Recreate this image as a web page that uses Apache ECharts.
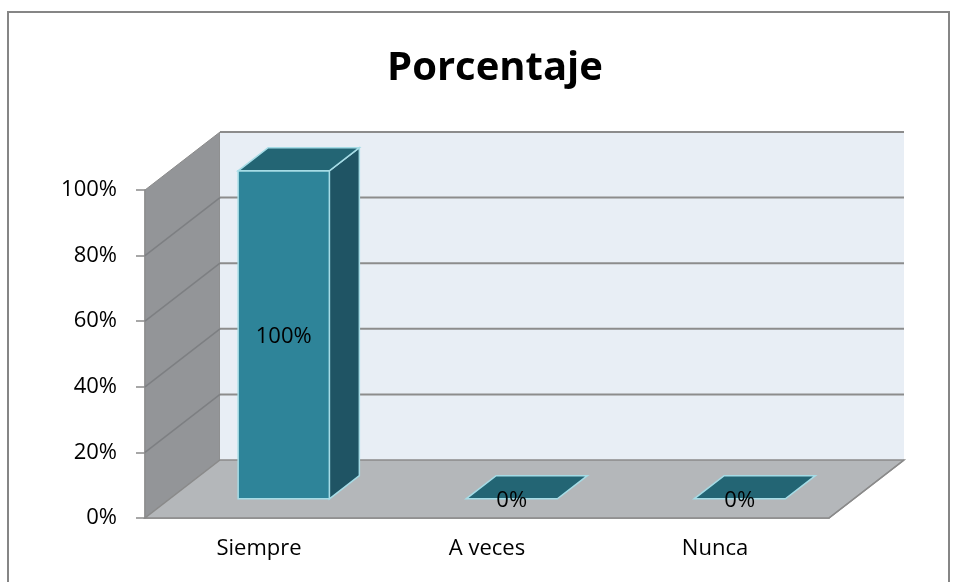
<!DOCTYPE html>
<html>
<head>
<meta charset="utf-8">
<script src="https://cdn.jsdelivr.net/npm/echarts@6/dist/echarts.min.js"></script>
<style>
html, body { margin: 0; padding: 0; background: #fff; }
#chart { width: 954px; height: 582px; }
</style>
</head>
<body>
<div id="chart"></div>
<script>
const categories = ['Siempre', 'A veces', 'Nunca'];
const values = [100, 0, 0];
const valueTicks = [0, 20, 40, 60, 80, 100];

// fake 3D: offset of the back wall from the front plane (px)
const DX = 75, DY = -58;
const BAR_FRONT = 0.33, BAR_BACK = 0.73, BAR_W = 0.4;

const chart = echarts.init(document.getElementById('chart'));

function shift(p, k) {
  return [p[0] + DX * k, p[1] + DY * k];
}

function renderWalls(params, api) {
  const band = api.size([1, 0])[0];
  const x0 = api.coord([0, 0])[0] - band / 2;
  const x1 = api.coord([categories.length - 1, 0])[0] + band / 2;
  const yBot = api.coord([0, 0])[1];
  const yTop = api.coord([0, 100])[1];
  const children = [];
  // side wall
  children.push({
    type: 'polygon',
    shape: { points: [[x0, yBot], [x0, yTop], shift([x0, yTop], 1), shift([x0, yBot], 1)] },
    style: { fill: '#939598', stroke: '#8a8a8a', lineWidth: 1 }
  });
  // back wall
  const bl = shift([x0, yTop], 1), br = shift([x1, yBot], 1);
  children.push({
    type: 'rect',
    shape: { x: bl[0], y: bl[1], width: br[0] - bl[0], height: br[1] - bl[1] },
    style: { fill: '#E8EEF5' }
  });
  // floor
  children.push({
    type: 'polygon',
    shape: { points: [[x0, yBot], [x1, yBot], shift([x1, yBot], 1), shift([x0, yBot], 1)] },
    style: { fill: '#B4B7BA', stroke: '#8a8a8a', lineWidth: 1.5 }
  });
  // gridlines on back wall and side wall
  valueTicks.forEach(function (v) {
    const y = api.coord([0, v])[1];
    if (v > 0) {
      children.push({
        type: 'line',
        shape: { x1: shift([x0, y], 1)[0], y1: shift([x0, y], 1)[1], x2: shift([x1, y], 1)[0], y2: shift([x1, y], 1)[1] },
        style: { stroke: '#8C8C8C', lineWidth: 2 }
      });
    }
    if (v > 0 && v < 100) {
      children.push({
        type: 'line',
        shape: { x1: x0, y1: y, x2: shift([x0, y], 1)[0], y2: shift([x0, y], 1)[1] },
        style: { stroke: '#7d7f82', lineWidth: 1.5 }
      });
    }
  });
  // right edge of floor
  children.push({
    type: 'line',
    shape: { x1: x1, y1: yBot, x2: shift([x1, yBot], 1)[0], y2: shift([x1, yBot], 1)[1] },
    style: { stroke: '#8a8a8a', lineWidth: 1.5 }
  });
  return { type: 'group', children: children };
}

function renderBar(params, api) {
  const i = api.value(0), v = api.value(1);
  const band = api.size([1, 0])[0];
  const w = band * BAR_W;
  const cx = api.coord([i, 0])[0];
  const yb = api.coord([i, 0])[1];
  const yt = api.coord([i, v])[1];
  const FBL = shift([cx - w / 2, yb], BAR_FRONT), FBR = shift([cx + w / 2, yb], BAR_FRONT);
  const FTL = shift([cx - w / 2, yt], BAR_FRONT), FTR = shift([cx + w / 2, yt], BAR_FRONT);
  const BTL = shift([cx - w / 2, yt], BAR_BACK), BTR = shift([cx + w / 2, yt], BAR_BACK);
  const BBR = shift([cx + w / 2, yb], BAR_BACK);
  const edge = '#A6DCE6';
  const children = [];
  if (v > 0) {
    children.push({
      type: 'polygon',
      shape: { points: [FTR, BTR, BBR, FBR] },
      style: { fill: '#1F5464', stroke: edge, lineWidth: 1.5 }
    });
    children.push({
      type: 'polygon',
      shape: { points: [FTL, FTR, FBR, FBL] },
      style: { fill: '#2E8499', stroke: edge, lineWidth: 1.5 }
    });
  }
  children.push({
    type: 'polygon',
    shape: { points: [FTL, FTR, BTR, BTL] },
    style: { fill: '#236574', stroke: edge, lineWidth: 1.5 }
  });
  children.push({
    type: 'text',
    style: {
      text: v + '%',
      x: (FTL[0] + FTR[0]) / 2,
      y: (FTL[1] + FBL[1]) / 2 + 2,
      align: 'center',
      verticalAlign: 'middle',
      fill: '#000',
      font: '22px "Open Sans"'
    }
  });
  return { type: 'group', children: children };
}

const option = {
  animation: false,
  title: {
    text: 'Porcentaje',
    left: 490,
    textAlign: 'center',
    top: 44,
    textStyle: { fontFamily: 'Open Sans', fontWeight: 'bold', fontSize: 40, color: '#000' }
  },
  graphic: [{
    type: 'rect',
    shape: { x: 8, y: 12, width: 941, height: 600 },
    style: { fill: 'none', stroke: '#868686', lineWidth: 2 },
    z: 100
  }],
  grid: { left: 145, right: 125, top: 190, bottom: 64 },
  xAxis: {
    type: 'category',
    data: categories,
    axisLine: { lineStyle: { color: '#8a8a8a', width: 1.5 } },
    axisTick: { length: 7, lineStyle: { color: '#8a8a8a', width: 1.5 } },
    axisLabel: { color: '#000', fontFamily: 'Open Sans', fontSize: 22, margin: 20 }
  },
  yAxis: {
    type: 'value',
    min: 0,
    max: 100,
    interval: 20,
    axisLine: { show: true, lineStyle: { color: '#8a8a8a', width: 1.5 } },
    axisTick: { show: true, length: 9, lineStyle: { color: '#8a8a8a', width: 1.5 } },
    splitLine: { show: false },
    axisLabel: { color: '#000', fontFamily: 'Open Sans', fontSize: 22, margin: 28, formatter: '{value}%' }
  },
  series: [
    {
      type: 'custom',
      renderItem: renderWalls,
      data: [[0, 0]],
      z: 1,
      silent: true
    },
    {
      type: 'custom',
      renderItem: renderBar,
      data: values.map(function (v, i) { return [i, v]; }),
      z: 2
    }
  ]
};
chart.setOption(option);
</script>
</body>
</html>
